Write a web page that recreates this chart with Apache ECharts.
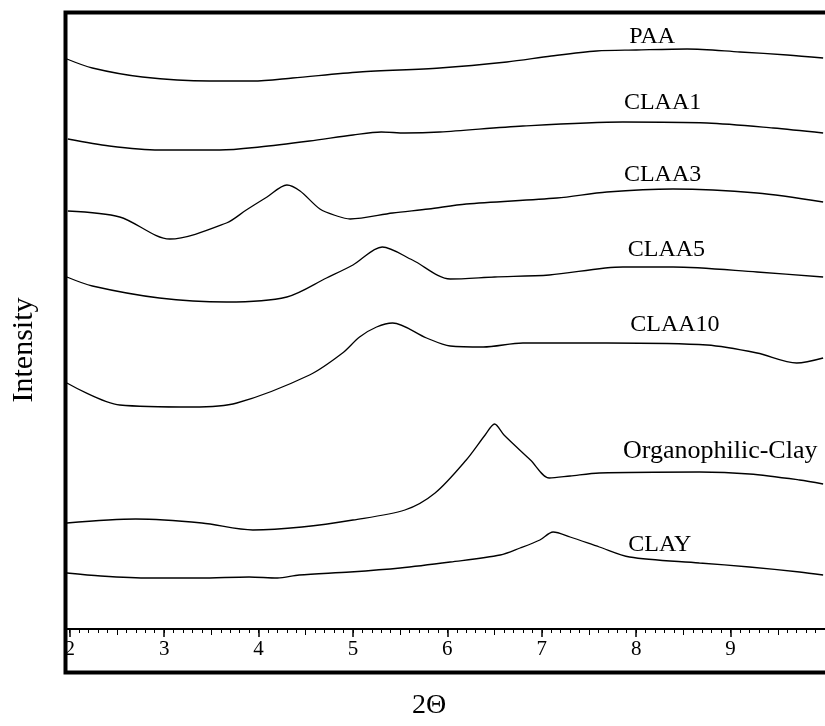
<!DOCTYPE html>
<html>
<head>
<meta charset="utf-8">
<script src="https://cdn.jsdelivr.net/npm/echarts@6/dist/echarts.min.js"></script>
<style>
  html, body { margin: 0; padding: 0; background: #fff; }
  #main { width: 825px; height: 726px; }
</style>
</head>
<body>
<div id="main"></div>
<script>
// XRD patterns, [2theta, intensity (arbitrary, offset per trace)]
var paa = [[1.97,570],[2.24,561],[2.77,552],[3.48,548],[3.94,548],[4.36,551],[5.07,557],
  [5.92,561],[6.63,567],[7.1,573],[7.58,578],[8.0,579],[8.54,580],[9.1,577],[9.6,574],[9.98,571]];
var claa1 = [[1.98,490],[2.42,483],[2.95,479],[3.59,479],[4.01,482],[4.54,488],[5.0,494],
  [5.3,497],[5.55,496],[5.92,497],[6.8,503],[7.86,507],[8.75,506],[9.45,501],[9.98,496]];
var claa3 = [[1.98,418],[2.53,412],[3.06,390],[3.66,406],[3.87,419],[4.09,432],[4.3,444],
  [4.44,438],[4.65,420],[4.83,413],[4.97,410],[5.42,416],[5.8,420],[6.2,425],[7.16,431],
  [7.69,437],[8.39,440],[9.28,436],[9.98,427]];
var claa5 = [[1.97,352],[2.24,343],[2.95,331],[3.66,327],[4.3,332],[4.72,351],[5.0,364],
  [5.31,382],[5.63,369],[6.03,350],[6.5,352],[7.08,354],[7.86,362],[8.39,362],[9.28,357],[9.98,352]];
var claa10 = [[1.97,246],[2.53,224],[3.3,222],[3.77,226],[4.54,254],[4.89,276],[5.07,292],
  [5.25,302],[5.42,306],[5.78,291],[6.03,283],[6.38,282],[6.8,286],[7.69,286],[8.75,284],
  [9.28,276],[9.7,266],[9.98,271]];
var organoClay = [[1.97,106],[2.7,110],[3.4,106],[3.94,99],[4.46,102],[5.0,109],[5.55,119],
  [5.87,136],[6.2,169],[6.4,194],[6.5,205],[6.6,194],[6.88,169],[7.08,151],[7.3,153],
  [7.61,156],[8.67,157],[9.2,155],[9.73,149],[9.98,145]];
var clay = [[1.97,56],[2.33,53],[2.85,51],[3.38,51],[3.9,52],[4.2,51],[4.43,54],[4.97,57],
  [5.5,61],[6.03,67],[6.56,74],[6.77,81],[6.98,89],[7.12,97],[7.3,92],[7.61,82],[7.93,72],
  [8.67,66],[9.2,62],[9.73,57],[9.98,54]];

var seriesNames = ['PAA', 'CLAA1', 'CLAA3', 'CLAA5', 'CLAA10', 'Organophilic-Clay', 'CLAY'];
var seriesData = [paa, claa1, claa3, claa5, claa10, organoClay, clay];
// where each trace name sits, [2theta, intensity]
var labelPos = [[8.17,592],[8.28,526],[8.28,454],[8.32,379],[8.41,304],[8.89,178],[8.25,84]];

var majorTicks = [2, 3, 4, 5, 6, 7, 8, 9];
var minorTicks = [];
for (var t = 20; t <= 100; t++) minorTicks.push(t / 10);
var halfTicks = [2.5, 3.5, 4.5, 5.5, 6.5, 7.5, 8.5, 9.5];

var serif = '"Liberation Serif", "DejaVu Serif", serif';

var series = [];
seriesData.forEach(function (d, i) {
  series.push({
    name: seriesNames[i],
    type: 'line',
    data: d,
    symbol: 'none',
    smooth: 0.3,
    lineStyle: { color: '#000', width: 1.3 },
    silent: true
  });
});
series.push({
  type: 'scatter',
  symbolSize: 0,
  itemStyle: { opacity: 1 },
  data: labelPos.map(function (p, i) {
    var item = { value: [p[0], p[1], seriesNames[i]] };
    if (seriesNames[i] === 'Organophilic-Clay') item.label = { fontSize: 26 };
    return item;
  }),
  label: {
    show: true,
    position: 'inside',
    formatter: function (p) { return p.value[2]; },
    color: '#000',
    opacity: 1,
    textBorderWidth: 0,
    fontFamily: serif,
    fontSize: 24
  },
  silent: true
});

var xBase = {
  type: 'value',
  min: 1.95,
  max: 10,
  position: 'bottom',
  splitLine: { show: false },
  axisLine: { show: false }
};

var option = {
  backgroundColor: '#fff',
  animation: false,
  grid: { left: 65, right: 0, top: 12, bottom: 97 },
  xAxis: [
    Object.assign({}, xBase, {
      axisLine: { show: true, lineStyle: { color: '#000', width: 2 } },
      axisTick: { show: true, length: 8, customValues: majorTicks, lineStyle: { color: '#000', width: 1.5 } },
      axisLabel: { show: true, customValues: majorTicks, margin: 10, color: '#000',
        fontFamily: serif, fontSize: 21 }
    }),
    Object.assign({}, xBase, {
      axisTick: { show: true, length: 4, customValues: minorTicks, lineStyle: { color: '#000', width: 1 } },
      axisLabel: { show: false }
    }),
    Object.assign({}, xBase, {
      axisTick: { show: true, length: 6, customValues: halfTicks, lineStyle: { color: '#000', width: 1 } },
      axisLabel: { show: false }
    })
  ],
  yAxis: { type: 'value', min: 0, max: 617, show: false },
  series: series,
  graphic: [
    { type: 'rect', shape: { x: 65.5, y: 12.5, width: 800, height: 660 },
      style: { fill: 'none', stroke: '#000', lineWidth: 4 }, silent: true },
    { type: 'text', x: 24, y: 350, rotation: Math.PI / 2,
      style: { text: 'Intensity', fill: '#000', font: '30px ' + serif, align: 'center', verticalAlign: 'middle' } },
    { type: 'text', x: 429, y: 706,
      style: { text: '2\u0398', fill: '#000', font: '28px ' + serif, align: 'center', verticalAlign: 'middle' } }
  ]
};

var chart = echarts.init(document.getElementById('main'));
chart.setOption(option);
</script>
</body>
</html>
